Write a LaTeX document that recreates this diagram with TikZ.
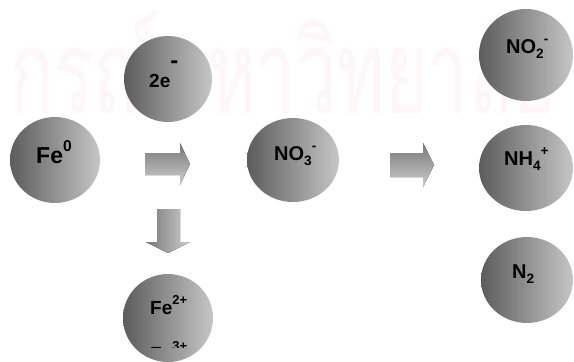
\documentclass[tikz,border=0pt]{standalone}
\usepackage{fontspec}
\setmainfont{Liberation Sans}
\newfontfamily\thaifont[Script=Thai]{Loma}
\usetikzlibrary{shapes.geometric}
\definecolor{wm}{RGB}{255,246,250}
\definecolor{balldark}{RGB}{92,92,92}
\definecolor{balllight}{RGB}{198,198,198}
\definecolor{arrdark}{RGB}{120,120,120}
\definecolor{arrlight}{RGB}{205,205,205}
\newcommand\lsub[1]{\raisebox{-0.25em}{\fontsize{0.68em}{0.68em}\selectfont #1}}
\newcommand\lsup[1]{\raisebox{0.5em}{\fontsize{0.68em}{0.68em}\selectfont #1}}
\begin{document}
\begin{tikzpicture}[x=1pt,y=-1pt,
  ball/.style={ellipse, inner sep=0pt, draw=none, left color=balldark, right color=balllight},
  lbl/.style={inner sep=0pt, anchor=base west, font=\bfseries\fontsize{20}{20}\selectfont},
  harrow/.style={top color=arrdark, bottom color=arrlight, draw=none},
  varrow/.style={left color=arrdark, right color=arrlight, draw=none}]
\useasboundingbox (0,0) rectangle (574,362);
\clip (0,0) rectangle (574,362);
\fill[white] (0,0) rectangle (574,362);
% watermark
\node[inner sep=0pt, anchor=base west, text=wm] (wmk) at (10,113)
  {\scalebox{0.93}[1.5]{\fontsize{78}{78}\thaifont กรณ์มหาวิทยาลัย}};
% balls
\node[ball, minimum width=90pt, minimum height=86pt] (fe0) at (55,160) {};
\node[ball, minimum width=88pt, minimum height=86pt] (e2) at (168,79) {};
\node[ball, minimum width=92pt, minimum height=84pt] (no3) at (293,160) {};
\node[ball, minimum width=94pt, minimum height=92pt] (no2) at (526,55) {};
\node[ball, minimum width=94pt, minimum height=86pt] (nh4) at (526,168) {};
\node[ball, minimum width=92pt, minimum height=86pt] (n2) at (527,280) {};
\node[ball, minimum width=90pt, minimum height=88pt] (fe2) at (168,318) {};
% labels
\node[lbl, font=\bfseries\fontsize{23}{23}\selectfont] (tfe0) at (36,163) {Fe\lsup{0}};
\node[lbl, font=\bfseries\fontsize{19}{19}\selectfont] (te2) at (149,87) {2e\raisebox{19pt}{\fontsize{24}{24}\selectfont -}};
\node[lbl] (tno3) at (274,160) {NO\lsub{3}\lsup{-}};
\node[lbl] (tno2) at (506,53) {NO\lsub{2}\lsup{-}};
\node[lbl] (tnh4) at (504,165) {NH\lsub{4}\lsup{+}};
\node[lbl] (tn2) at (512,278) {N\lsub{2}};
\node[lbl, font=\bfseries\fontsize{19}{19}\selectfont] (tfe2) at (150,314) {Fe\lsup{2+}};
\begin{scope}
  \clip (100,330) rectangle (240,347);
  \node[lbl, font=\bfseries\fontsize{19}{19}\selectfont] (tfe3) at (150,360) {Fe\lsup{3+}};
\end{scope}
% block arrows
\fill[harrow] (145,153) -- (180,153) -- (180,143) -- (190,164) -- (180,185) -- (180,175) -- (145,175) -- cycle;
\fill[harrow] (390,153) -- (423,153) -- (423,143) -- (434,165) -- (423,187) -- (423,177) -- (390,177) -- cycle;
\fill[varrow] (157,209) -- (180,209) -- (180,242) -- (190,242) -- (168,253) -- (146,242) -- (157,242) -- cycle;
\end{tikzpicture}
\end{document}
